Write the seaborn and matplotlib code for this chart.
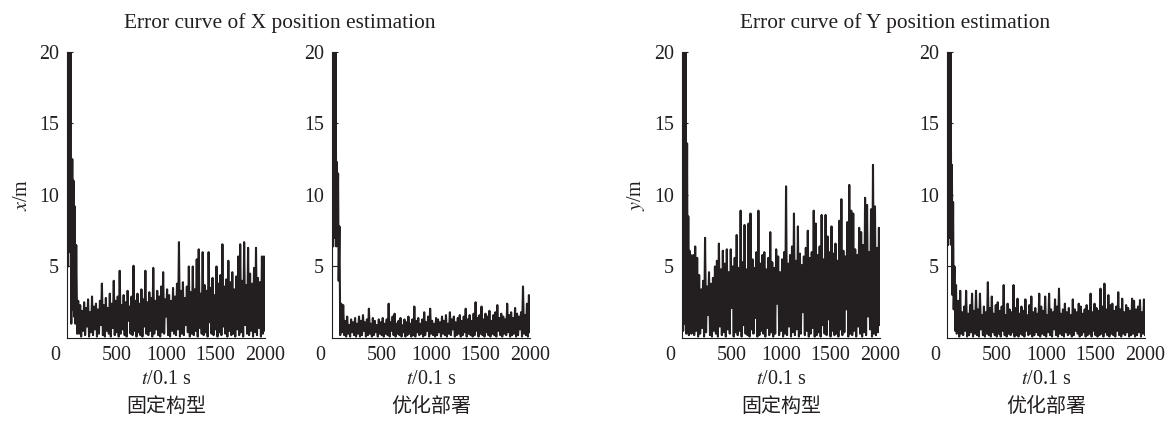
import numpy as np
import pandas as pd
import matplotlib
matplotlib.use("Agg")
import matplotlib.pyplot as plt
import seaborn as sns


#%% Data (error in m vs sample index t/0.1 s)

# start-up transient (t, error)
Trans_T_X_Fixed = [0, 8, 16, 24, 32, 40, 50, 56, 62, 68, 75, 82, 90, 100]
Trans_V_X_Fixed = [25, 5, 25, 6, 22, 1.0, 12.5, 2.0, 11.0, 1.5, 9.2, 1.0, 6.5, 0.3]

Trans_T_X_Opt = [0, 8, 16, 24, 32, 40, 46, 52, 58, 64, 72, 80, 90, 100]
Trans_V_X_Opt = [24, 6.4, 24, 7, 22, 6.4, 12.3, 7.9, 11.5, 4.0, 7.8, 0.2, 2.4, 0.4]

Trans_T_Y_Fixed = [0, 8, 16, 24, 32, 40, 48, 54, 60, 66, 72, 80, 86, 92, 100]
Trans_V_Y_Fixed = [25, 0.5, 25, 1, 22, 0.3, 13.6, 0.6, 8.5, 0.2, 6.1, 0.4, 5.8, 0.3, 0.5]

Trans_T_Y_Opt = [0, 8, 16, 24, 32, 40, 46, 52, 58, 64, 72, 80, 88, 94, 100]
Trans_V_Y_Opt = [24, 6.5, 24, 7, 22, 6.5, 12.1, 3, 9.5, 2, 5.0, 0.5, 3.7, 0.3, 0.4]

# steady part: local maxima at t = 110, 130, ... 1990 and minima at t = 120, 140, ... 2000
Peaks_X_Fixed = [2.6, 2.3, 1.9, 2.5, 2.1, 2.7, 1.8, 2.9, 2.2, 2.4,
                 2.0, 2.6, 3.8, 2.3, 2.8, 2.1, 3.1, 2.4, 4.0, 2.6,
                 2.9, 4.7, 2.3, 3.0, 2.5, 3.3, 2.2, 2.9, 5.05, 2.6,
                 3.1, 2.4, 3.4, 2.7, 4.7, 2.5, 3.2, 2.8, 4.9, 2.6,
                 3.3, 2.9, 3.6, 4.6, 2.7, 3.4, 3.0, 2.6, 3.5, 2.9,
                 3.8, 6.7, 3.3, 3.9, 2.8, 3.6, 5.0, 3.2, 5.0, 3.4,
                 5.5, 6.2, 3.1, 6.0, 3.7, 3.3, 6.0, 3.5, 4.2, 3.0,
                 5.0, 3.8, 4.4, 6.55, 3.6, 4.1, 5.4, 3.9, 4.6, 3.4,
                 4.3, 5.7, 6.55, 4.0, 6.7, 3.7, 6.3, 4.5, 3.8, 4.9,
                 6.3, 4.2, 3.9, 5.7, 5.7]
Troughs_X_Fixed = [0.3, 0.1, 0.5, 0.2, 0.8, 0.1, 0.4, 0.2, 0.6, 0.1,
                   0.3, 0.9, 0.2, 0.1, 0.5, 0.3, 0.1, 0.7, 0.2, 0.4,
                   0.1, 0.3, 0.6, 0.2, 0.1, 1.2, 0.3, 0.2, 0.5, 0.1,
                   0.4, 0.2, 0.1, 0.8, 0.3, 0.2, 0.5, 0.1, 0.3, 0.6,
                   0.2, 0.1, 0.4, 0.3, 1.5, 0.2, 0.1, 0.5, 0.3, 0.2,
                   0.6, 0.1, 0.3, 0.2, 0.9, 0.4, 0.1, 0.3, 0.2, 0.5,
                   0.1, 0.7, 0.3, 0.2, 0.4, 0.1, 1.1, 0.3, 0.2, 0.6,
                   0.1, 0.4, 0.2, 0.8, 0.3, 0.1, 0.5, 0.2, 0.3, 0.1,
                   0.6, 0.2, 0.4, 0.1, 0.9, 0.3, 0.2, 0.5, 0.1, 0.4,
                   0.2, 0.7, 0.1, 0.3, 0.5]

Peaks_X_Opt = [2.3, 1.2, 1.5, 0.9, 1.3, 1.1, 1.4, 1.0, 1.5, 1.2,
               1.6, 1.1, 1.3, 2.05, 1.0, 1.4, 1.2, 0.9, 1.3, 1.1,
               1.4, 1.0, 1.3, 2.4, 1.1, 1.5, 1.7, 1.0, 1.2, 1.4,
               0.9, 1.3, 1.1, 1.5, 1.0, 1.3, 2.2, 1.2, 1.4, 1.0,
               1.3, 1.8, 1.1, 1.5, 2.05, 1.2, 1.0, 1.4, 1.3, 1.1,
               1.5, 1.2, 1.6, 1.0, 1.8, 1.3, 1.5, 1.1, 1.4, 1.6,
               1.2, 1.5, 2.05, 1.3, 1.6, 1.2, 1.7, 2.5, 1.4, 1.6,
               2.2, 1.3, 1.7, 1.5, 1.9, 1.2, 1.6, 1.8, 2.3, 1.4,
               1.7, 1.5, 1.3, 2.4, 1.6, 1.8, 1.4, 2.1, 1.7, 1.5,
               1.8, 3.6, 1.6, 2.4, 3.0]
Troughs_X_Opt = [0.2, 0.1, 0.3, 0.1, 0.4, 0.2, 0.1, 0.3, 0.1, 0.2,
                 0.5, 0.1, 0.2, 0.3, 0.1, 0.2, 0.4, 0.1, 0.3, 0.2,
                 0.1, 0.3, 0.2, 0.1, 0.5, 0.2, 0.1, 0.3, 0.2, 0.1,
                 0.4, 0.1, 0.2, 0.3, 0.1, 0.2, 0.1, 0.4, 0.2, 0.3,
                 0.1, 0.2, 0.5, 0.1, 0.3, 0.2, 0.1, 0.2, 0.4, 0.1,
                 0.3, 0.2, 0.1, 0.3, 0.2, 0.6, 0.1, 0.2, 0.3, 0.1,
                 0.2, 0.4, 0.1, 0.3, 0.2, 0.1, 0.2, 0.5, 0.1, 0.3,
                 0.2, 0.1, 0.4, 0.2, 0.1, 0.3, 0.2, 0.1, 0.5, 0.2,
                 0.1, 0.3, 0.2, 0.4, 0.1, 0.2, 0.3, 0.1, 0.2, 0.6,
                 0.1, 0.3, 0.2, 0.1, 0.4]

Peaks_Y_Fixed = [5.8, 6.4, 5.6, 4.4, 3.4, 4.0, 7.0, 3.6, 4.6, 3.8,
                 4.2, 5.0, 5.4, 6.6, 4.8, 6.1, 5.2, 6.2, 4.6, 6.2,
                 5.0, 5.6, 7.2, 4.9, 8.9, 5.3, 7.9, 4.8, 8.0, 8.7,
                 5.5, 4.9, 6.0, 8.9, 5.2, 5.8, 6.0, 4.8, 5.6, 7.4,
                 5.3, 4.9, 6.2, 5.7, 4.6, 5.5, 6.0, 10.6, 5.2, 5.8,
                 6.4, 8.7, 5.4, 7.8, 5.9, 5.1, 5.7, 6.3, 7.5, 5.6,
                 6.0, 8.9, 8.0, 5.8, 6.4, 8.6, 5.5, 8.6, 7.1, 6.0,
                 7.8, 5.9, 6.6, 5.4, 8.2, 9.7, 6.1, 5.7, 8.1, 10.7,
                 8.9, 8.7, 6.2, 5.8, 7.7, 7.4, 6.5, 9.8, 9.3, 6.0,
                 9.0, 12.1, 9.2, 6.3, 7.7]
Troughs_Y_Fixed = [0.2, 0.5, 0.1, 0.3, 0.7, 0.1, 0.4, 1.6, 0.2, 0.1,
                   0.5, 0.3, 0.1, 0.8, 0.2, 0.4, 0.1, 0.6, 0.3, 2.1,
                   0.1, 0.4, 0.2, 0.5, 0.1, 0.9, 0.3, 0.2, 0.1, 0.6,
                   0.3, 1.4, 0.1, 0.2, 0.5, 0.3, 0.1, 0.7, 0.2, 0.4,
                   0.1, 0.3, 2.4, 0.2, 0.5, 0.1, 0.3, 0.2, 0.8, 0.1,
                   0.4, 0.2, 0.6, 0.1, 0.3, 1.8, 0.2, 0.5, 0.1, 0.3,
                   0.7, 0.1, 0.2, 0.4, 0.1, 0.9, 0.3, 0.2, 1.3, 0.1,
                   0.5, 0.2, 0.3, 0.1, 0.6, 0.2, 0.4, 2.0, 0.1, 0.3,
                   0.2, 0.5, 0.1, 0.8, 0.3, 0.1, 0.4, 0.2, 1.5, 0.6,
                   0.1, 0.3, 0.2, 0.4, 0.9]

Peaks_Y_Opt = [2.6, 3.3, 1.8, 2.2, 3.3, 1.7, 2.3, 3.1, 1.9, 3.3,
               2.0, 3.1, 1.6, 2.2, 1.8, 3.9, 2.1, 2.9, 1.7, 2.3,
               2.5, 1.9, 2.2, 3.7, 1.6, 2.4, 2.0, 1.8, 3.7, 2.1,
               2.75, 1.7, 2.2, 1.9, 2.7, 1.6, 2.3, 2.9, 1.8, 2.1,
               1.7, 3.1, 2.2, 1.9, 2.9, 1.6, 3.1, 2.0, 1.8, 2.7,
               2.2, 3.45, 1.7, 2.0, 2.4, 1.8, 2.1, 1.6, 2.7, 2.0,
               1.8, 2.4, 2.2, 1.7, 2.0, 2.3, 1.9, 3.1, 1.8, 2.4,
               2.1, 1.9, 3.45, 2.2, 3.8, 2.0, 3.0, 2.3, 2.4, 1.9,
               2.2, 3.2, 2.0, 2.75, 1.8, 2.3, 2.1, 1.9, 2.75, 2.6,
               2.0, 2.2, 2.65, 1.8, 2.7]
Troughs_Y_Opt = [0.1, 0.3, 0.2, 0.5, 0.1, 0.2, 0.4, 0.1, 0.3, 0.2,
                 0.1, 0.6, 0.2, 0.1, 0.3, 0.2, 0.1, 0.4, 0.2, 0.1,
                 0.3, 0.1, 0.5, 0.2, 0.1, 0.3, 0.2, 0.4, 0.1, 0.2,
                 0.1, 0.3, 0.2, 0.1, 0.5, 0.2, 0.3, 0.1, 0.2, 0.4,
                 0.2, 0.1, 0.3, 0.2, 0.1, 0.4, 0.2, 0.1, 0.6, 0.2,
                 0.1, 0.3, 0.2, 0.1, 0.4, 0.2, 0.3, 0.1, 0.2, 0.5,
                 0.3, 0.1, 0.2, 0.4, 0.1, 0.2, 0.3, 0.1, 0.5, 0.2,
                 0.1, 0.2, 0.3, 0.1, 0.4, 0.2, 0.1, 0.3, 0.2, 0.1,
                 0.5, 0.2, 0.1, 0.3, 0.2, 0.4, 0.1, 0.2, 0.3, 0.1,
                 0.2, 0.4, 0.1, 0.3, 0.2]

T_Peaks   = np.arange(110, 2000, 20)
T_Troughs = T_Peaks + 10

Titles      = ["Error curve of X position estimation", "Error curve of Y position estimation"]
YLabels     = ["$x$/m", "$y$/m"]
XLabel      = "$t$/0.1 s"
SubLabels   = ["固定构型", "优化部署"]
XTicks      = [0, 500, 1000, 1500, 2000]
XTickLabels = ["", "500", "1000", "1500", "2000"]
YTicks      = [5, 10, 15, 20]


def build_df(trans_t, trans_v, peaks, troughs):
    t = np.empty(2 * len(peaks))
    v = np.empty(2 * len(peaks))
    t[0::2], t[1::2] = T_Peaks, T_Troughs
    v[0::2], v[1::2] = peaks, troughs
    return pd.DataFrame({"t": np.concatenate([trans_t, t]),
                         "err": np.concatenate([trans_v, v])})


Panels = [build_df(Trans_T_X_Fixed, Trans_V_X_Fixed, Peaks_X_Fixed, Troughs_X_Fixed),
          build_df(Trans_T_X_Opt, Trans_V_X_Opt, Peaks_X_Opt, Troughs_X_Opt),
          build_df(Trans_T_Y_Fixed, Trans_V_Y_Fixed, Peaks_Y_Fixed, Troughs_Y_Fixed),
          build_df(Trans_T_Y_Opt, Trans_V_Y_Opt, Peaks_Y_Opt, Troughs_Y_Opt)]


#%% Style
sns.set_style("ticks")
plt.rcParams["font.family"]      = ["Liberation Serif", "Noto Sans CJK SC"]
plt.rcParams["mathtext.fontset"] = "stix"

Ink             = "#231f20"
FontSize        = 14.4
FontSize_Title  = 15.4
FontCJK         = "Noto Sans CJK SC"
Line_Width      = 1.5
Axis_LW         = 0.8

Fig_W, Fig_H = 11.69, 4.24
Ax_Left     = [0.0576, 0.2843, 0.5837, 0.8104]
Ax_Bottom   = 0.2028
Ax_Width    = 0.169
Ax_Height   = 0.675


#%% Plot
Fig = plt.figure(figsize=(Fig_W, Fig_H), dpi=100)

for k, df in enumerate(Panels):
    ax = Fig.add_axes([Ax_Left[k], Ax_Bottom, Ax_Width, Ax_Height])

    sns.lineplot(data=df, x="t", y="err", ax=ax, color=Ink,
                 linewidth=Line_Width, estimator=None, sort=False)

    ax.set_xlim(0, 2000)
    ax.set_ylim(0, 20)
    ax.set_xticks(XTicks)
    ax.set_xticklabels(XTickLabels)
    ax.set_yticks(YTicks)
    ax.set_yticklabels([str(v) for v in YTicks])

    # the origin "0" sits a little left of the y axis in the reference
    ax.annotate("0", xy=(0, 0), xycoords="axes fraction", xytext=(-9, -6),
                textcoords="offset points", ha="center", va="top",
                fontsize=FontSize, color=Ink)

    ax.tick_params(axis="y", direction="in", length=4, width=Axis_LW, pad=6,
                   labelsize=FontSize, colors=Ink)
    ax.tick_params(axis="x", direction="in", length=0, pad=6,
                   labelsize=FontSize, colors=Ink)

    ax.spines[["right", "top"]].set_visible(False)
    ax.spines[["left", "bottom"]].set_linewidth(Axis_LW)
    ax.spines[["left", "bottom"]].set_color(Ink)

    ax.set_xlabel(XLabel, fontsize=FontSize, color=Ink)
    ax.xaxis.set_label_coords(0.5, -0.112)
    ax.text(0.5, -0.24, SubLabels[k % 2], transform=ax.transAxes,
            ha="center", va="center", fontsize=FontSize, family=FontCJK, color=Ink)

    if k % 2 == 0:
        ax.set_ylabel(YLabels[k // 2], fontsize=FontSize, color=Ink)
        ax.yaxis.set_label_coords(-0.18, 0.5)
    else:
        ax.set_ylabel("")

Fig.text(280 / 1169, 1 - 23 / 424, Titles[0], ha="center", va="center",
         fontsize=FontSize_Title, color=Ink)
Fig.text(895 / 1169, 1 - 23 / 424, Titles[1], ha="center", va="center",
         fontsize=FontSize_Title, color=Ink)

plt.savefig("out.png", dpi=100)
